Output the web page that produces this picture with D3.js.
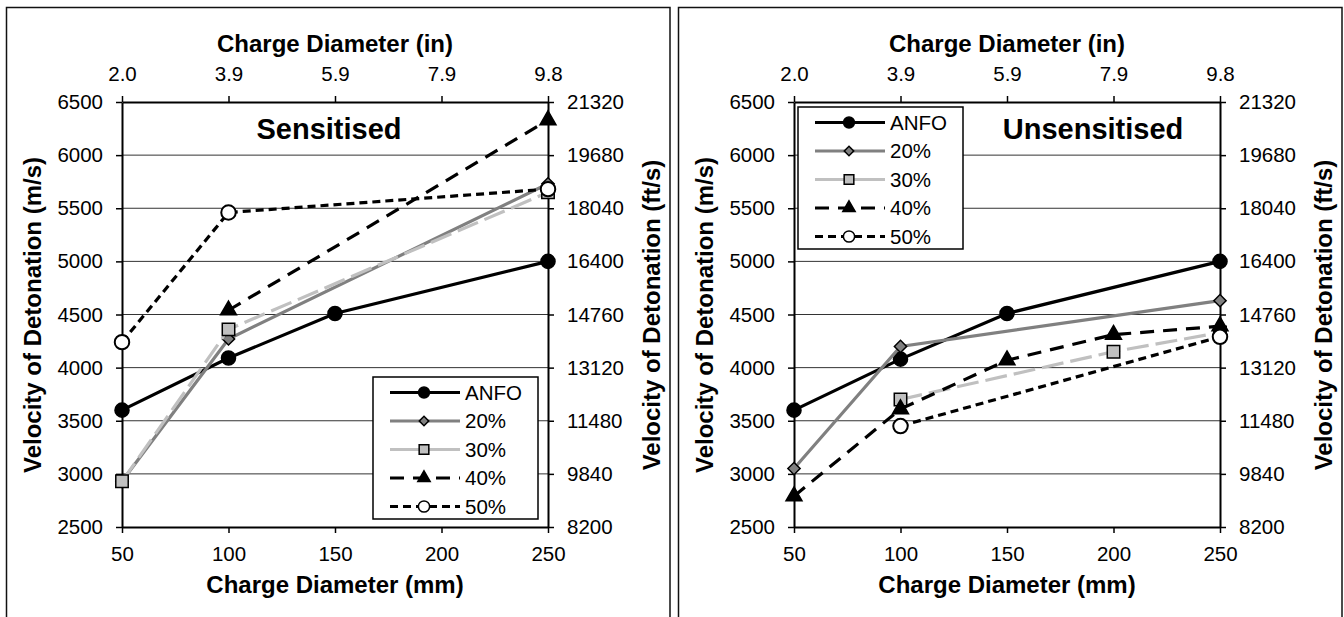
<!DOCTYPE html>
<html>
<head>
<meta charset="utf-8">
<script src="https://cdn.jsdelivr.net/npm/d3@7"></script>
<style>
  body { margin: 0; background: #fff; }
  svg text { font-family: "Liberation Sans", Arial, sans-serif; fill: #000; }
</style>
</head>
<body>
<svg id="chart" width="1344" height="617"></svg>
<script>
// charge diameters (mm) and axis labels
const diamMM = [50, 100, 150, 200, 250];
const diamIn = ['2.0', '3.9', '5.9', '7.9', '9.8'];
const vodTicks = [2500, 3000, 3500, 4000, 4500, 5000, 5500, 6000, 6500];
const vodFt = ['8200', '9840', '11480', '13120', '14760', '16400', '18040', '19680', '21320'];
const seriesNames = ['ANFO', '20%', '30%', '40%', '50%'];

// sensitised VOD (m/s), null = not measured
const sensANFO = [3600, 4090, 4510, null, 5000];
const sens20 = [2930, 4270, null, null, 5730];
const sens30 = [2930, 4360, null, null, 5650];
const sens40 = [null, 4540, null, null, 6330];
const sens50 = [4240, 5460, null, null, 5680];

// unsensitised VOD (m/s)
const unsANFO = [3600, 4080, 4510, null, 5000];
const uns20 = [3050, 4200, null, null, 4630];
const uns30 = [null, 3700, null, 4150, 4330];
const uns40 = [2790, 3610, 4070, 4310, 4390];
const uns50 = [null, 3450, null, null, 4290];

const styles = [
    {stroke: '#000', dash: null, sym: d3.symbolCircle, size: 155, fill: '#000', rot: 0},
    {stroke: '#808080', dash: null, sym: d3.symbolSquare, size: 75, fill: '#808080', rot: 45},
    {stroke: '#c0c0c0', dash: '22,7', sym: d3.symbolSquare, size: 155, fill: '#c0c0c0', rot: 0},
    {stroke: '#000', dash: '14,9', sym: d3.symbolTriangle, size: 110, fill: '#000', rot: 0},
    {stroke: '#000', dash: '8,5', sym: d3.symbolCircle, size: 165, fill: '#fff', rot: 0}
];

const svg = d3.select('#chart');

function drawPanel(dx, title, titleX, series, legendPos) {
    const g = svg.append('g').attr('transform', 'translate(' + dx + ',0)');

    g.append('rect')
        .attr('x', 6.5).attr('y', 7.5)
        .attr('width', 663.5).attr('height', 700)
        .attr('fill', 'none').attr('stroke', '#111').attr('stroke-width', 1.5);

    const x = d3.scaleLinear().domain([50, 250]).range([122, 548]);
    const y = d3.scaleLinear().domain([2500, 6500]).range([527, 102]);

    // gridlines
    g.append('g').selectAll('line')
        .data(vodTicks.slice(1, -1))
        .join('line')
        .attr('x1', 122).attr('x2', 548)
        .attr('y1', d => y(d)).attr('y2', d => y(d))
        .attr('stroke', '#333').attr('stroke-width', 1);

    const styleAxis = sel => {
        sel.select('.domain').attr('stroke', '#000').attr('stroke-width', 2);
        sel.selectAll('.tick line').attr('stroke', '#000').attr('stroke-width', 1.5);
        sel.selectAll('.tick text').style('font-size', '20.5px').attr('font-family', null);
    };

    g.append('g').attr('transform', 'translate(122,0)')
        .call(d3.axisLeft(y).tickValues(vodTicks).tickSize(6).tickSizeOuter(0).tickPadding(13).tickFormat(d3.format('d')))
        .call(styleAxis);
    g.append('g').attr('transform', 'translate(548,0)')
        .call(d3.axisRight(y).tickValues(vodTicks).tickSize(6).tickSizeOuter(0).tickPadding(13).tickFormat((d, i) => vodFt[i]))
        .call(styleAxis);
    g.append('g').attr('transform', 'translate(0,527)')
        .call(d3.axisBottom(x).tickValues(diamMM).tickSize(6).tickSizeOuter(0).tickPadding(13).tickFormat(d3.format('d')))
        .call(styleAxis);
    g.append('g').attr('transform', 'translate(0,102)')
        .call(d3.axisTop(x).tickValues(diamMM).tickSize(6).tickSizeOuter(0).tickPadding(15).tickFormat((d, i) => diamIn[i]))
        .call(styleAxis);

    // axis titles
    g.append('text').attr('x', 335).attr('y', 52).attr('text-anchor', 'middle')
        .style('font-size', '24px').style('font-weight', 'bold').text('Charge Diameter (in)');
    g.append('text').attr('x', 335).attr('y', 593).attr('text-anchor', 'middle')
        .style('font-size', '24px').style('font-weight', 'bold').text('Charge Diameter (mm)');
    g.append('text').attr('transform', 'translate(41,315) rotate(-90)').attr('text-anchor', 'middle')
        .style('font-size', '24px').style('font-weight', 'bold').text('Velocity of Detonation (m/s)');
    g.append('text').attr('transform', 'translate(660,315) rotate(-90)').attr('text-anchor', 'middle')
        .style('font-size', '24px').style('font-weight', 'bold').text('Velocity of Detonation (ft/s)');

    g.append('text').attr('x', titleX).attr('y', 139).attr('text-anchor', 'middle')
        .style('font-size', '29px').style('font-weight', 'bold').text(title);

    const line = d3.line().x(d => x(d[0])).y(d => y(d[1]));

    series.forEach((vals, i) => {
        const st = styles[i];
        const pts = diamMM.map((m, j) => [m, vals[j]]).filter(p => p[1] != null);
        const sg = g.append('g');
        sg.append('path')
            .attr('d', line(pts))
            .attr('fill', 'none')
            .attr('stroke', st.stroke)
            .attr('stroke-width', 3.2)
            .attr('stroke-dasharray', st.dash);
        sg.selectAll('path.mk')
            .data(pts)
            .join('path')
            .attr('class', 'mk')
            .attr('d', d3.symbol().type(st.sym).size(st.size))
            .attr('transform', d => 'translate(' + x(d[0]) + ',' + y(d[1]) + ') rotate(' + st.rot + ')')
            .attr('fill', st.fill)
            .attr('stroke', '#000')
            .attr('stroke-width', i === 4 ? 2 : 1.5);
    });

    // legend
    const lg = g.append('g').attr('transform', 'translate(' + legendPos[0] + ',' + legendPos[1] + ')');
    lg.append('rect').attr('x', 0).attr('y', 0).attr('width', 165).attr('height', 142)
        .attr('fill', '#fff').attr('stroke', '#000').attr('stroke-width', 1.5);
    seriesNames.forEach((name, i) => {
        const st = styles[i];
        const ry = 15.5 + i * 28.5;
        lg.append('line').attr('x1', 17).attr('x2', 87).attr('y1', ry).attr('y2', ry)
            .attr('stroke', st.stroke).attr('stroke-width', 3.2)
            .attr('stroke-dasharray', i === 2 ? null : st.dash)
            .attr('stroke-dashoffset', i === 3 ? 0 : null);
        lg.append('path')
            .attr('d', d3.symbol().type(st.sym).size(st.size * 0.6))
            .attr('transform', 'translate(51,' + ry + ') rotate(' + st.rot + ')')
            .attr('fill', st.fill).attr('stroke', '#000').attr('stroke-width', 1.5);
        lg.append('text').attr('x', 92).attr('y', ry).attr('dy', '0.36em')
            .style('font-size', '20.5px').text(name);
    });
}

drawPanel(0, 'Sensitised', 329, [sensANFO, sens20, sens30, sens40, sens50], [373, 377]);
drawPanel(672, 'Unsensitised', 421, [unsANFO, uns20, uns30, uns40, uns50], [126, 107]);
</script>
</body>
</html>
